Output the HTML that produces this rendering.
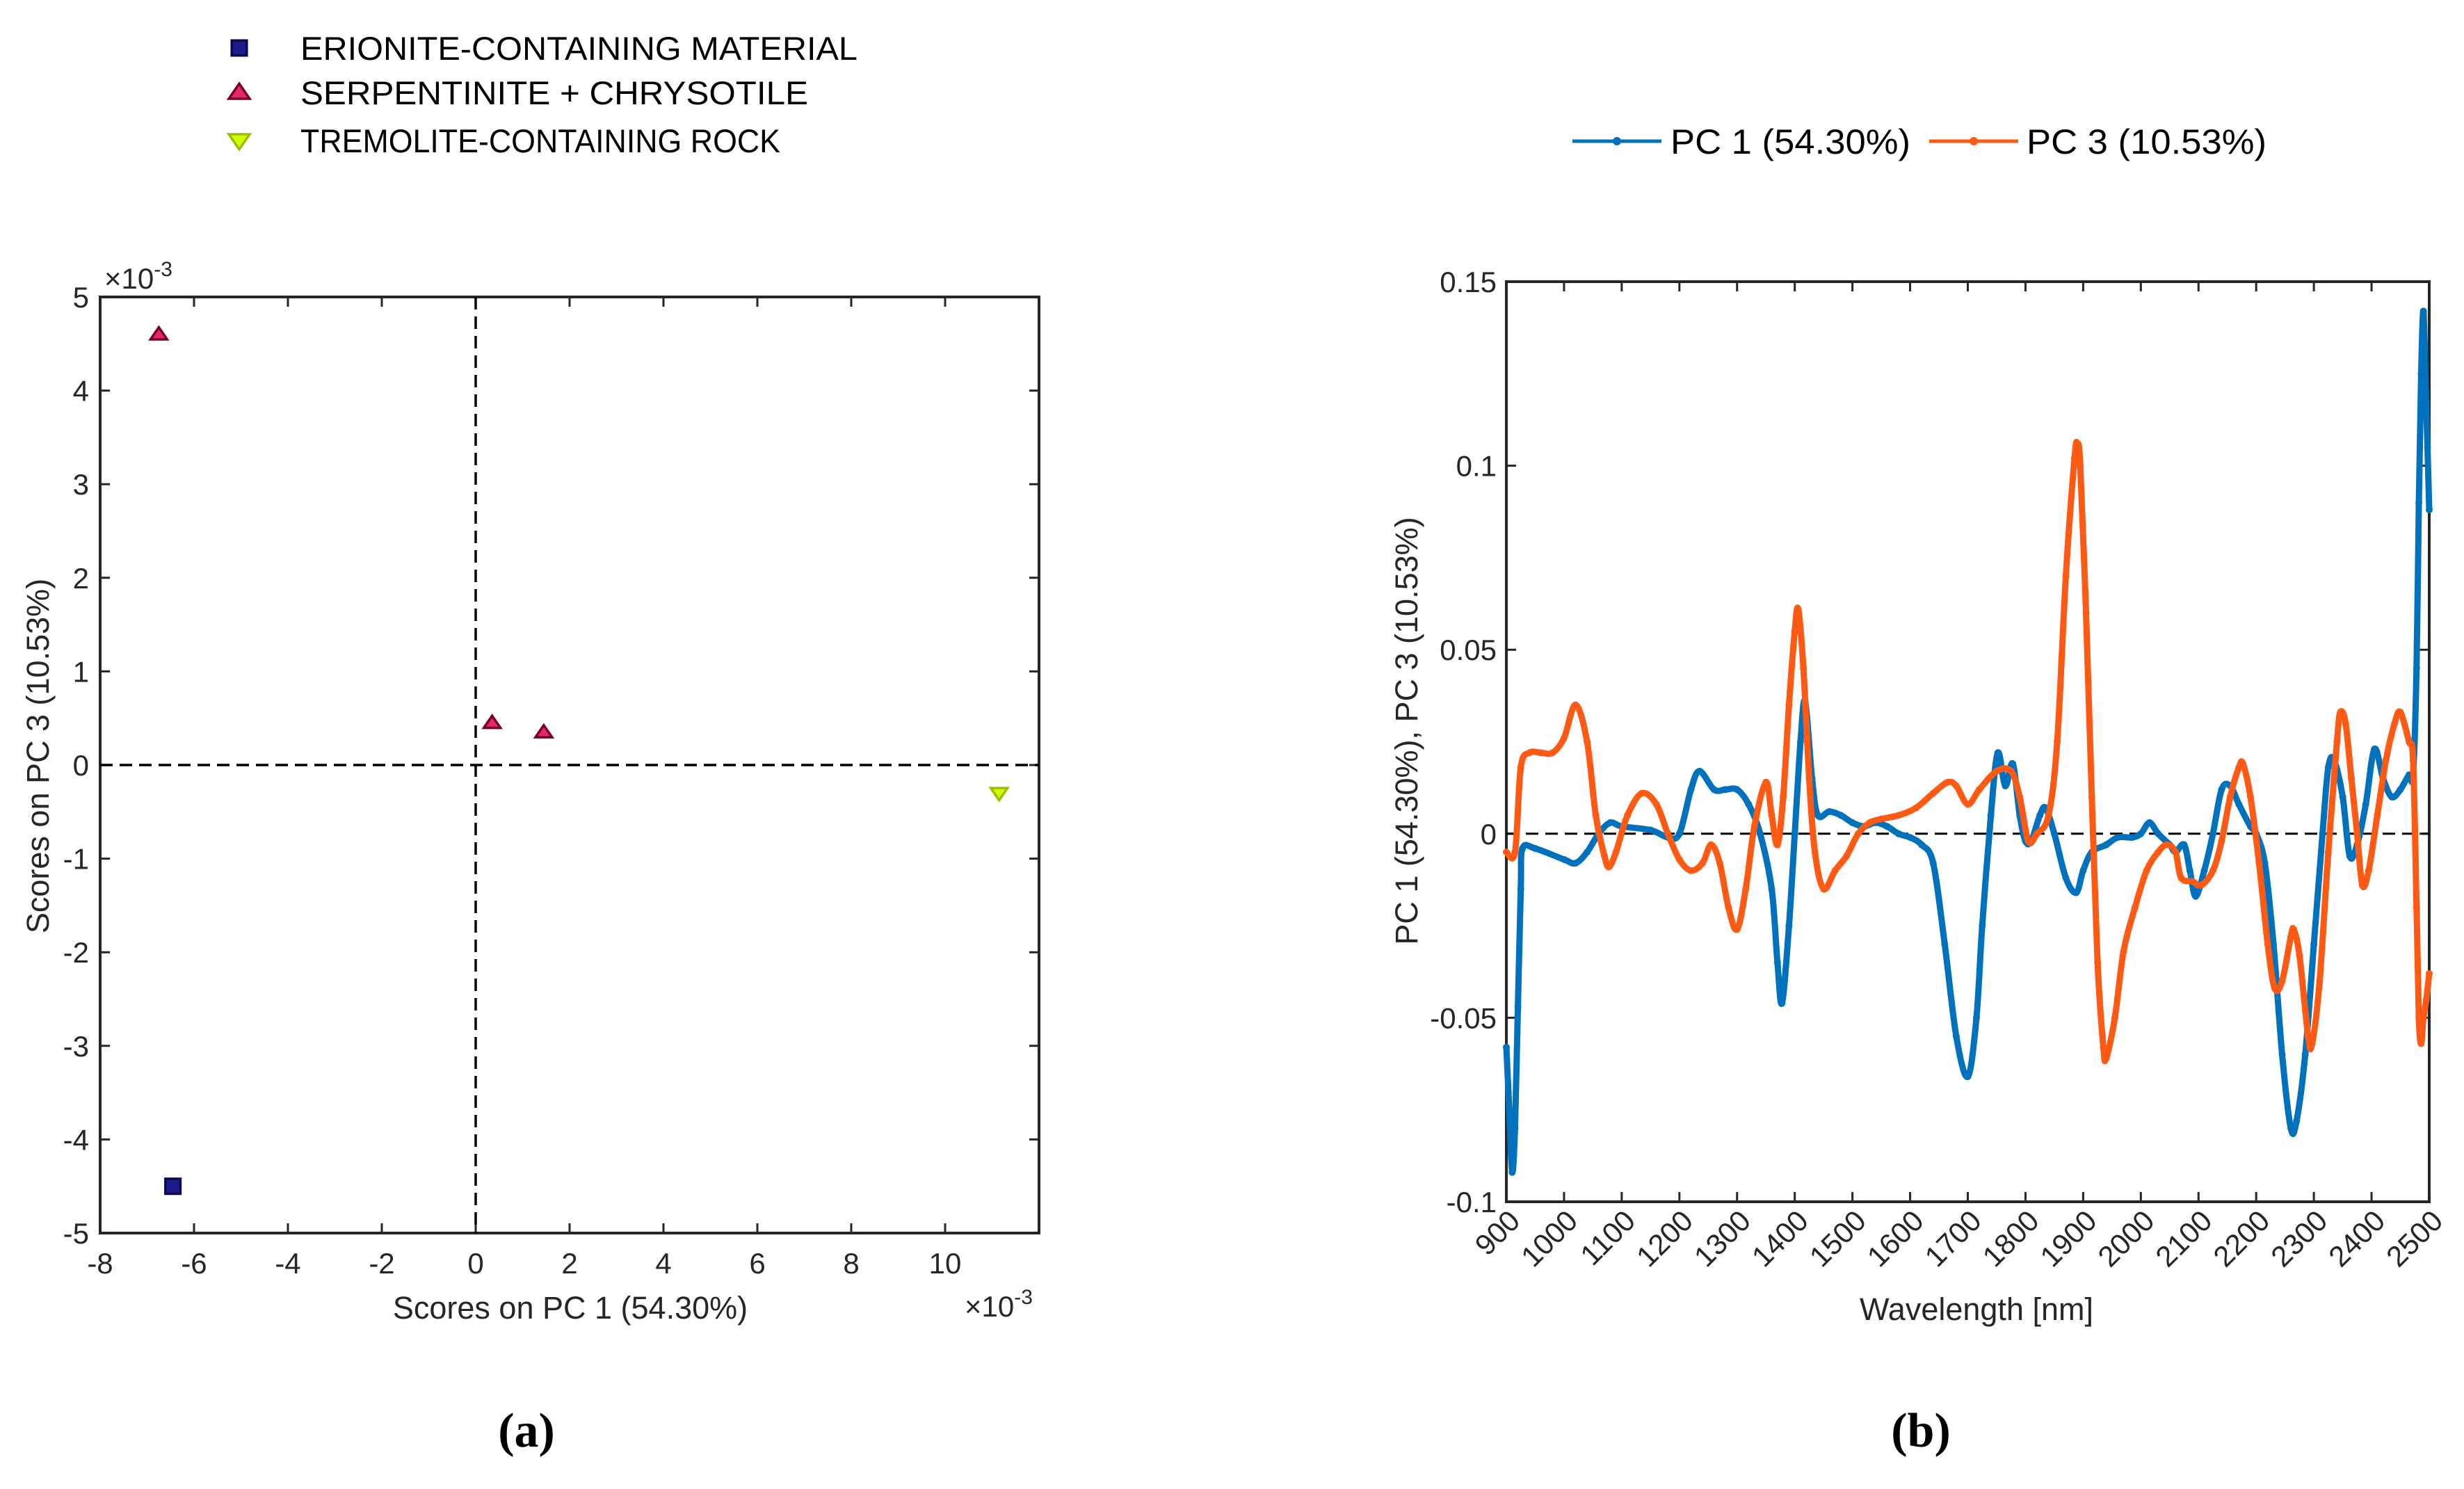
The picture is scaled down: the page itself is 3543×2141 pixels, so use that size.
<!DOCTYPE html>
<html><head><meta charset="utf-8"><style>
html,body{margin:0;padding:0;background:#fff}
svg{display:block}
text{font-family:"Liberation Sans",Arial,sans-serif;fill:#262626}
</style></head><body>
<svg id="fig" width="3543" height="2141" viewBox="0 0 3543 2141" xmlns="http://www.w3.org/2000/svg">
<g id="left"></g>
<g id="right"></g>
<text x="757" y="2080" font-size="70" font-weight="bold" text-anchor="middle" style="font-family:'Liberation Serif',serif;fill:#000">(a)</text>
<text x="2762" y="2080" font-size="70" font-weight="bold" text-anchor="middle" style="font-family:'Liberation Serif',serif;fill:#000">(b)</text>
</svg>
<script>
// ---- Score plot data ----
const groupNames = ["ERIONITE-CONTAINING MATERIAL","SERPENTINITE + CHRYSOTILE","TREMOLITE-CONTAINING ROCK"];
const scoreGroup = [0,1,1,1,2];
const scorePC1 = [-6.45,-6.75,0.35,1.45,11.15];
const scorePC3 = [-4.5,4.6,0.45,0.35,-0.3];
const xTicksA = [-8,-6,-4,-2,0,2,4,6,8,10];
const yTicksA = [-5,-4,-3,-2,-1,0,1,2,3,4,5];
// ---- Loadings data ----
const wl1 = [900,905,910,915,920,925,928,950,1000,1020,1040,1060,1080,1100,1150,1180,1200,1220,1235,1260,1280,1300,1320,1340,1360,1370,1378,1390,1400,1410,1418,1430,1440,1460,1480,1500,1520,1540,1560,1580,1600,1620,1640,1660,1680,1700,1715,1725,1740,1752,1765,1778,1790,1800,1810,1825,1835,1850,1870,1888,1900,1915,1940,1960,1985,2000,2015,2030,2050,2060,2075,2085,2095,2110,2125,2140,2155,2170,2190,2200,2215,2230,2245,2260,2270,2285,2300,2315,2325,2335,2350,2362,2375,2390,2405,2420,2435,2450,2465,2472,2478,2482,2486,2490,2494,2497,2500];
const pc1 = [-0.058,-0.075,-0.092,-0.08,-0.047,-0.015,-0.004,-0.004,-0.007,-0.008,-0.005,0.0,0.003,0.002,0.001,-0.001,0.0,0.012,0.017,0.012,0.012,0.012,0.008,0.0,-0.015,-0.035,-0.046,-0.025,0.0,0.025,0.036,0.015,0.005,0.006,0.005,0.003,0.002,0.003,0.002,0.0,-0.001,-0.003,-0.008,-0.03,-0.055,-0.066,-0.05,-0.025,0.005,0.022,0.013,0.019,0.005,-0.002,-0.002,0.005,0.007,0.0,-0.012,-0.016,-0.01,-0.005,-0.003,-0.001,-0.001,0.0,0.003,0.0,-0.003,-0.005,-0.003,-0.01,-0.017,-0.01,0.0,0.012,0.013,0.008,0.002,0.0,-0.008,-0.03,-0.06,-0.08,-0.078,-0.06,-0.03,0.0,0.018,0.02,0.01,-0.006,-0.003,0.008,0.023,0.015,0.01,0.012,0.016,0.016,0.045,0.09,0.125,0.142,0.12,0.105,0.088];
const wl3 = [900,915,925,940,960,980,1000,1020,1040,1055,1070,1078,1090,1110,1135,1160,1180,1200,1220,1240,1255,1270,1285,1300,1315,1330,1350,1360,1370,1380,1390,1400,1406,1415,1425,1435,1450,1470,1490,1510,1530,1550,1580,1610,1640,1665,1680,1700,1720,1750,1775,1790,1805,1820,1840,1855,1870,1885,1890,1895,1905,1915,1925,1935,1940,1955,1970,1990,2010,2030,2045,2060,2070,2090,2105,2125,2140,2155,2170,2177,2190,2205,2220,2232,2245,2260,2265,2275,2290,2297,2310,2325,2340,2346,2355,2365,2375,2384,2395,2410,2425,2440,2450,2465,2472,2478,2482,2486,2490,2495,2500];
const pc3 = [-0.005,-0.005,0.018,0.022,0.022,0.022,0.026,0.035,0.025,0.005,-0.006,-0.009,-0.005,0.005,0.011,0.008,0.0,-0.007,-0.01,-0.008,-0.003,-0.008,-0.02,-0.026,-0.015,0.002,0.014,0.005,-0.003,0.01,0.035,0.055,0.061,0.045,0.015,-0.005,-0.015,-0.01,-0.006,0.0,0.003,0.004,0.005,0.007,0.011,0.014,0.013,0.008,0.012,0.017,0.017,0.01,-0.002,0.0,0.005,0.025,0.07,0.102,0.106,0.1,0.06,0.01,-0.035,-0.058,-0.061,-0.05,-0.032,-0.02,-0.01,-0.005,-0.003,-0.005,-0.012,-0.013,-0.014,-0.01,-0.002,0.01,0.018,0.019,0.01,-0.008,-0.03,-0.042,-0.04,-0.028,-0.026,-0.033,-0.055,-0.057,-0.04,-0.005,0.025,0.033,0.03,0.015,0.0,-0.014,-0.01,0.005,0.02,0.03,0.033,0.025,0.02,-0.02,-0.05,-0.057,-0.05,-0.045,-0.038];
const xTicksB = [900,1000,1100,1200,1300,1400,1500,1600,1700,1800,1900,2000,2100,2200,2300,2400,2500];
const yTicksB = [-0.1,-0.05,0,0.05,0.1,0.15];
const yTickLabB = ["-0.1","-0.05","0","0.05","0.1","0.15"];

const NS="http://www.w3.org/2000/svg";
function mk(parent,tag,attrs,txt){const e=document.createElementNS(NS,tag);for(const k in attrs)e.setAttribute(k,attrs[k]);if(txt!==undefined)e.textContent=txt;parent.appendChild(e);return e;}

// ===== Left panel =====
const L=document.getElementById('left');
const AX={x0:144,x1:1494,y0:427,y1:1773,xmin:-8,xmax:12,ymin:-5,ymax:5};
const sxA=v=>AX.x0+(v-AX.xmin)/(AX.xmax-AX.xmin)*(AX.x1-AX.x0);
const syA=v=>AX.y1-(v-AX.ymin)/(AX.ymax-AX.ymin)*(AX.y1-AX.y0);
let e;
e=mk(L,'rect',{x:AX.x0,y:AX.y0,width:AX.x1-AX.x0,height:AX.y1-AX.y0,fill:'none',stroke:'#262626','stroke-width':4});


xTicksA.forEach(t=>{const x=sxA(t);
 e=mk(L,'path',{d:`M${x},${AX.y1}v-14M${x},${AX.y0}v14`,stroke:'#262626','stroke-width':3});
 
 
 e=mk(L,'text',{x:x,y:AX.y1+58,'font-size':42,'text-anchor':'middle'},String(t));
 
 });
yTicksA.forEach(t=>{const y=syA(t);
 e=mk(L,'path',{d:`M${AX.x0},${y}h14M${AX.x1},${y}h-14`,stroke:'#262626','stroke-width':3});
 
 
 e=mk(L,'text',{x:AX.x0-16,y:y+15,'font-size':42,'text-anchor':'end'},String(t));
 
 });
e=mk(L,'path',{d:`M${sxA(0)},${AX.y0}V${AX.y1}M${AX.x0},${syA(0)}H${AX.x1}`,stroke:'#000','stroke-width':3.5,'stroke-dasharray':'18,10',fill:'none'});


e=mk(L,'text',{x:150,y:415,'font-size':42},'×10');


mk(e,'tspan',{dy:-18,'font-size':30},'-3');
e=mk(L,'text',{x:1387,y:1893,'font-size':42},'×10');


mk(e,'tspan',{dy:-18,'font-size':30},'-3');
e=mk(L,'text',{x:820,y:1896,'font-size':45,'text-anchor':'middle'},'Scores on PC 1 (54.30%)');


e=mk(L,'text',{x:0,y:0,'font-size':45,'text-anchor':'middle',transform:'translate(70,1087) rotate(-90)'},'Scores on PC 3 (10.53%)');



const fills=['#1C1C8E','#E6286A','#CCFF00'], strokes=['#0A0A50','#7A0028','#9ABF00'];
function marker(g,x,y,gr,s){
 if(gr===0) return mk(g,'rect',{x:x-s*0.9,y:y-s*0.9,width:s*1.8,height:s*1.8,fill:fills[0],stroke:strokes[0],'stroke-width':3.5});
 if(gr===1) return mk(g,'path',{d:`M${x},${y-s*0.85}L${x+s},${y+s*0.6}L${x-s},${y+s*0.6}Z`,fill:fills[1],stroke:strokes[1],'stroke-width':3.5});
 return mk(g,'path',{d:`M${x},${y+s*0.85}L${x+s},${y-s*0.6}L${x-s},${y-s*0.6}Z`,fill:fills[2],stroke:strokes[2],'stroke-width':3.5});
}
scorePC1.forEach((v,i)=>{const m=marker(L,sxA(v),syA(scorePC3[i]),scoreGroup[i],12);
 
 });
// legend a
const legY=[69,133,202];
groupNames.forEach((n,i)=>{
 const m=marker(L,344,legY[i],i,i===0?12:15);
 
 
 const t=mk(L,'text',{x:432,y:legY[i]+17,'font-size':47,textLength:i===0?801:(i===1?730:690),lengthAdjust:'spacingAndGlyphs',style:'fill:#000'},n);
 
 });

// ===== Right panel =====
const R=document.getElementById('right');
const BX={x0:2166,x1:3493,y0:405,y1:1728,xmin:900,xmax:2500,ymin:-0.1,ymax:0.15};
const sxB=v=>BX.x0+(v-BX.xmin)/(BX.xmax-BX.xmin)*(BX.x1-BX.x0);
const syB=v=>BX.y1-(v-BX.ymin)/(BX.ymax-BX.ymin)*(BX.y1-BX.y0);
e=mk(R,'rect',{x:BX.x0,y:BX.y0,width:BX.x1-BX.x0,height:BX.y1-BX.y0,fill:'none',stroke:'#262626','stroke-width':4});


xTicksB.forEach(t=>{const x=sxB(t);
 e=mk(R,'path',{d:`M${x},${BX.y1}v-14M${x},${BX.y0}v14`,stroke:'#262626','stroke-width':3});
 
 
 e=mk(R,'text',{x:0,y:0,'font-size':42,'text-anchor':'end',transform:`translate(${x+22},${BX.y1+30}) rotate(-45)`},String(t));
 
 });
yTicksB.forEach((t,i)=>{const y=syB(t);
 e=mk(R,'path',{d:`M${BX.x0},${y}h14M${BX.x1},${y}h-14`,stroke:'#262626','stroke-width':3});
 
 
 e=mk(R,'text',{x:BX.x0-14,y:y+15,'font-size':42,'text-anchor':'end'},yTickLabB[i]);
 
 });
e=mk(R,'path',{d:`M${BX.x0},${syB(0)}H${BX.x1}`,stroke:'#000','stroke-width':3,'stroke-dasharray':'18,10'});


e=mk(R,'text',{x:2842,y:1898,'font-size':45,'text-anchor':'middle'},'Wavelength [nm]');


e=mk(R,'text',{x:0,y:0,'font-size':45,'text-anchor':'middle',transform:'translate(2038,1051) rotate(-90)'},'PC 1 (54.30%), PC 3 (10.53%)');



function smoothPath(xs,ys){
 const P=xs.map((x,i)=>[sxB(x),syB(ys[i])]);
 let d=`M${P[0][0]},${P[0][1]}`;
 for(let i=0;i<P.length-1;i++){
  const p0=P[Math.max(0,i-1)],p1=P[i],p2=P[i+1],p3=P[Math.min(P.length-1,i+2)];
  const c1=[p1[0]+(p2[0]-p0[0])/6,p1[1]+(p2[1]-p0[1])/6];
  const c2=[p2[0]-(p3[0]-p1[0])/6,p2[1]-(p3[1]-p1[1])/6];
  d+=`C${c1[0]},${c1[1]} ${c2[0]},${c2[1]} ${p2[0]},${p2[1]}`;
 }
 return d;
}
function series(xs,ys,col,name){
 const g=mk(R,'g',{});
 
 
 mk(g,'path',{d:smoothPath(xs,ys),fill:'none',stroke:col,'stroke-width':9,'stroke-linejoin':'round'});
 xs.forEach((x,i)=>{const c=mk(g,'circle',{cx:sxB(x),cy:syB(ys[i]),r:5,fill:col});
  
  });
}
series(wl1,pc1,'#0072BD','pc1-line');
series(wl3,pc3,'#FF5A14','pc3-line');
// legend b
const legB=[[2261,2389,2402,'#0072BD','PC 1 (54.30%)'],[2774,2902,2914,'#FF5A14','PC 3 (10.53%)']];
legB.forEach(l=>{
 e=mk(R,'path',{d:`M${l[0]},203H${l[1]}`,stroke:l[3],'stroke-width':5});
 
 
 e=mk(R,'circle',{cx:(l[0]+l[1])/2,cy:203,r:6,fill:l[3]});
 
 
 e=mk(R,'text',{x:l[2],y:221,'font-size':50,textLength:345,lengthAdjust:'spacingAndGlyphs',style:'fill:#000'},l[4]);
 
 });
</script>
</body></html>
